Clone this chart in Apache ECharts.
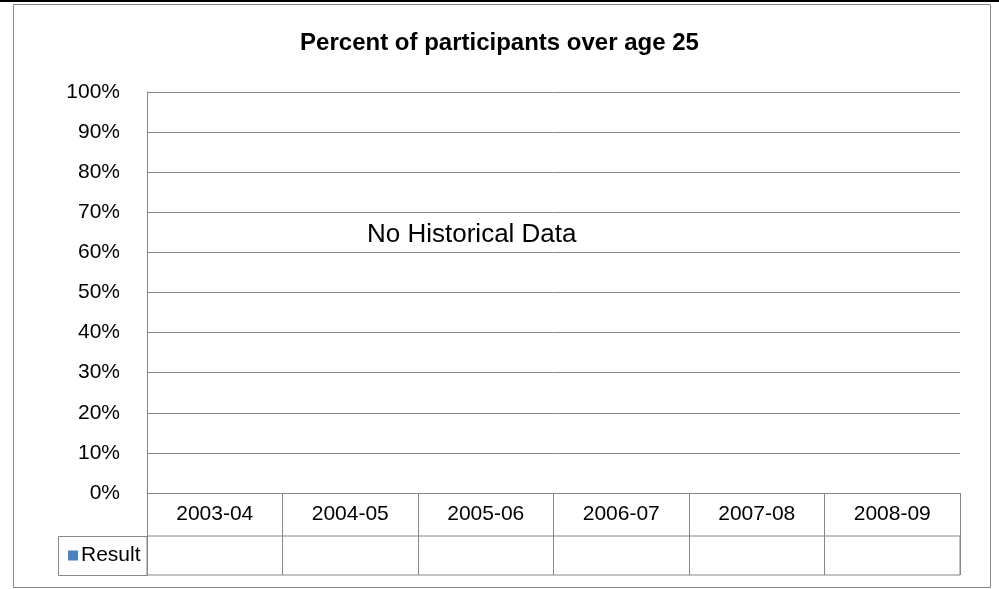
<!DOCTYPE html>
<html>
<head>
<meta charset="utf-8">
<title>Percent of participants over age 25</title>
<script src="https://cdn.jsdelivr.net/npm/echarts@6/dist/echarts.min.js"></script>
<style>
  html, body { margin: 0; padding: 0; background: #fff; }
  #chart { width: 999px; height: 589px; }
</style>
</head>
<body>
<div id="chart"></div>
<script>
// chart data
var categories = ['2003-04', '2004-05', '2005-06', '2006-07', '2007-08', '2008-09'];
var resultValues = [null, null, null, null, null, null]; // no historical data
var seriesName = 'Result';
var chartTitle = 'Percent of participants over age 25';
var noDataText = 'No Historical Data';

var FONT = 'Liberation Sans';
var GRAY = '#868686';

var myChart = echarts.init(document.getElementById('chart'));

var option = {
    backgroundColor: '#fff',
    animation: false,
    title: {
        text: chartTitle,
        left: 'center',
        top: 26,
        textStyle: { fontFamily: FONT, fontSize: 24, fontWeight: 'bold', color: '#000' }
    },
    legend: {
        data: [seriesName],
        left: 63,
        top: 540,
        icon: 'rect',
        itemWidth: 10,
        itemHeight: 10,
        textStyle: { fontFamily: FONT, fontSize: 21, color: '#000', padding: [0, 0, 0, -2] }
    },
    grid: [
        { left: 147, right: 39, top: 92, bottom: 96 },
        { left: 147, right: 39, top: 536, height: 39, show: true, borderColor: GRAY, borderWidth: 1 }
    ],
    xAxis: [
        {
            type: 'category',
            gridIndex: 0,
            data: categories,
            axisLine: { show: true, lineStyle: { color: GRAY, width: 1 } },
            axisTick: { show: true, interval: 0, length: 43, lineStyle: { color: GRAY, width: 1 } },
            axisLabel: { interval: 0, margin: 11, fontFamily: FONT, fontSize: 21, color: '#000' },
            splitLine: { show: false }
        },
        {
            type: 'category',
            gridIndex: 1,
            data: categories,
            axisLine: { show: false },
            axisTick: { show: false },
            axisLabel: { show: false },
            splitLine: { show: true, interval: 0, lineStyle: { color: GRAY, width: 1 } }
        }
    ],
    yAxis: [
        {
            type: 'value',
            gridIndex: 0,
            min: 0,
            max: 100,
            interval: 10,
            axisLine: { show: true, lineStyle: { color: GRAY, width: 1 } },
            axisTick: { show: false },
            axisLabel: { formatter: '{value}%', margin: 27, fontFamily: FONT, fontSize: 21, color: '#000' },
            splitLine: { show: true, lineStyle: { color: GRAY, width: 1 } }
        },
        { type: 'value', gridIndex: 1, show: false }
    ],
    graphic: [
        // page edge line and outer chart border
        { type: 'rect', shape: { x: 0, y: 0, width: 999, height: 2 }, style: { fill: '#000' }, silent: true },
        { type: 'rect', shape: { x: 13.5, y: 4.5, width: 977, height: 583 }, style: { fill: 'none', stroke: GRAY, lineWidth: 1 }, silent: true },
        // legend cell of the data table
        { type: 'rect', shape: { x: 58.5, y: 536.5, width: 89, height: 39 }, style: { fill: 'none', stroke: GRAY, lineWidth: 1 }, silent: true },
        {
            type: 'text', left: 367, top: 222, silent: true,
            style: { text: noDataText, fontFamily: FONT, fontSize: 26, fill: '#000' }
        }
    ],
    series: [
        {
            name: seriesName,
            type: 'bar',
            xAxisIndex: 0,
            yAxisIndex: 0,
            itemStyle: { color: '#4F81BD' },
            data: resultValues
        }
    ]
};

myChart.setOption(option);
</script>
</body>
</html>
